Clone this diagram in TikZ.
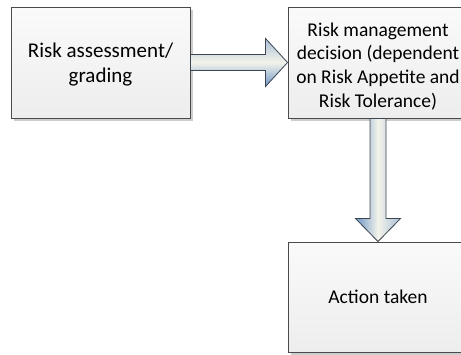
\documentclass[tikz,border=0pt]{standalone}
\usepackage{fontspec}
\setmainfont{Carlito}
\usetikzlibrary{calc,shadows}
\definecolor{boxline}{HTML}{4A4A4A}
\definecolor{arrline}{HTML}{3C4650}
\definecolor{arrdark}{HTML}{6E93C6}
\definecolor{arrlight}{HTML}{F3F4EA}
\definecolor{arrmid}{HTML}{A9BED6}
\definecolor{shadowgray}{HTML}{CDCDCD}
\tikzset{
  procbox/.style={draw=boxline, line width=0.9pt, rectangle,
    minimum width=179pt, minimum height=111pt, inner sep=0pt,
    top color=black!2, bottom color=black!7, align=center,
    font=\fontsize{19.5pt}{23.7pt}\selectfont,
    drop shadow={shadow xshift=2.5pt, shadow yshift=-2.5pt, fill=shadowgray, opacity=1}},
  bigtext/.style={font=\fontsize{21pt}{24.8pt}\selectfont},
  harrow/.style={draw=arrline, line width=0.8pt, top color=arrmid, bottom color=arrdark, middle color=arrlight},
  varrow/.style={draw=arrline, line width=0.8pt, left color=arrdark, right color=arrmid, middle color=arrlight},
}
\begin{document}
\begin{tikzpicture}[x=1pt,y=-1pt]
\useasboundingbox (0,0) rectangle (461,354);
\clip (0,0) rectangle (461,354);
\node[procbox, bigtext] (assess) at (100.5,62.5) {\rule{0pt}{19pt}Risk assessment/\\grading};
\node[procbox, minimum width=180pt] (decide) at (378,62.5) {\rule{0pt}{21pt}Risk management\\decision (dependent\\on Risk Appetite and\\Risk Tolerance)};
\node[procbox, minimum width=180pt, minimum height=110pt] (action) at (378,297) {Action taken};
% horizontal block arrow
\path[harrow] ($(assess.east)+(0,-8)$) -- ($(decide.west)+(-22,-8)$) -- ($(decide.west)+(-22,-24)$)
  -- (decide.west) -- ($(decide.west)+(-22,24)$) -- ($(decide.west)+(-22,8)$) -- ($(assess.east)+(0,8)$) -- cycle;
% vertical block arrow
\path[varrow] ($(decide.south)+(-8,0)$) -- ($(action.north)+(-8,-23)$) -- ($(action.north)+(-22.5,-23)$)
  -- (action.north) -- ($(action.north)+(22.5,-23)$) -- ($(action.north)+(8,-23)$) -- ($(decide.south)+(8,0)$) -- cycle;
\end{tikzpicture}
\end{document}
